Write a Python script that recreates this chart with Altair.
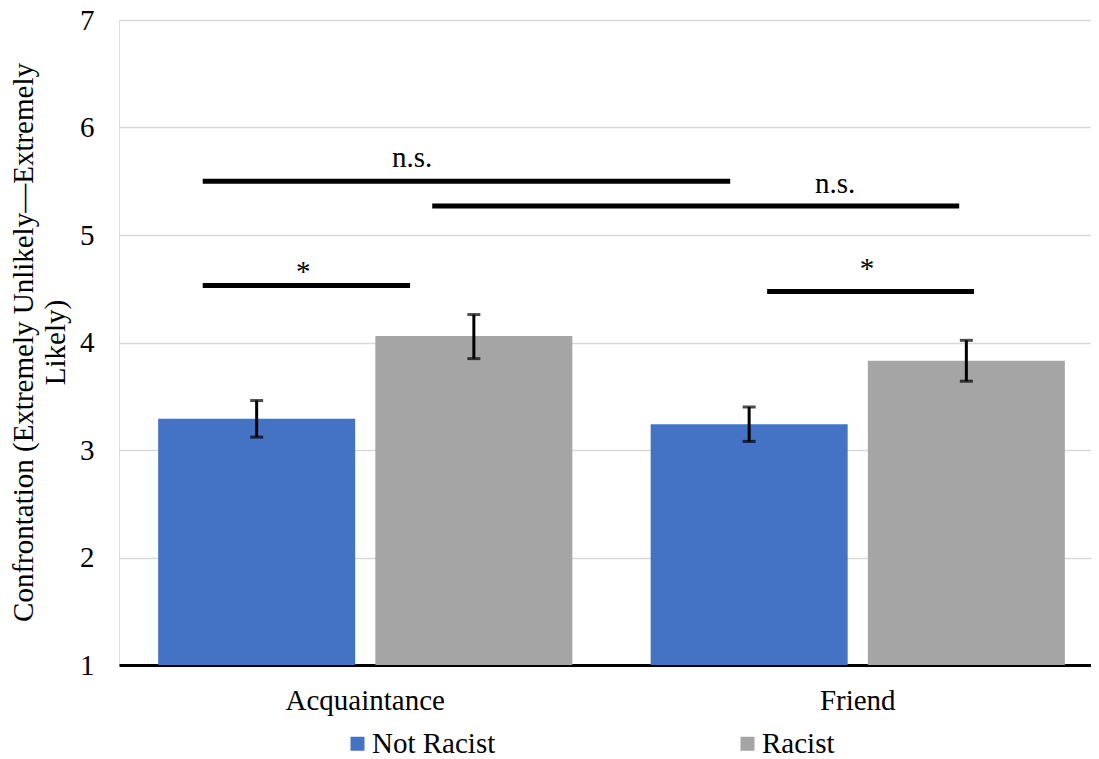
import altair as alt
import pandas as pd

# ---- data ----
targets = ["Acquaintance", "Friend"]
conditions = ["Not Racist", "Racist"]
means_not_racist = [3.29, 3.24]
means_racist = [4.06, 3.83]
err_low_not_racist = [3.12, 3.08]
err_high_not_racist = [3.46, 3.40]
err_low_racist = [3.85, 3.64]
err_high_racist = [4.26, 4.02]

# significance brackets (x in category units: 0..2, y in scale units)
sig_start = [0.17, 0.636, 0.17, 1.316]
sig_end = [1.241, 1.706, 0.591, 1.736]
sig_y = [5.50, 5.27, 4.53, 4.475]
sig_label = ["n.s.", "n.s.", "*", "*"]
sig_label_x = [0.595, 1.454, 0.374, 1.519]
sig_label_y = [5.633, 5.394, 4.57, 4.60]

colors = ["#4472C4", "#A5A5A5"]
y_ticks = [1, 2, 3, 4, 5, 6, 7]
y_title = ["Confrontation (Extremely Unlikely\u2014Extremely", "Likely)"]
FONT = "Liberation Serif, Times New Roman, serif"

rows = []
for i, t in enumerate(targets):
    rows.append({"target": t, "condition": conditions[0], "mean": means_not_racist[i],
                 "lo": err_low_not_racist[i], "hi": err_high_not_racist[i]})
    rows.append({"target": t, "condition": conditions[1], "mean": means_racist[i],
                 "lo": err_low_racist[i], "hi": err_high_racist[i]})
df = pd.DataFrame(rows)

sig_df = pd.DataFrame({"x": sig_start, "x2": sig_end, "y": sig_y})
lab_df = pd.DataFrame({"x": sig_label_x, "y": sig_label_y, "text": sig_label})

x_band = alt.X("target:N", sort=targets,
               scale=alt.Scale(domain=targets, range=[0, 985], paddingInner=0.159, paddingOuter=0.0795),
               axis=alt.Axis(title=None, labelAngle=0, labelFontSize=29, labelFont=FONT,
                             labelColor="#000000", ticks=False, domainColor="#000000",
                             domainWidth=3, labelPadding=21))
x_off = alt.XOffset("condition:N", sort=conditions,
                    scale=alt.Scale(domain=conditions, paddingInner=0.093, paddingOuter=0))
y_scale = alt.Scale(domain=[1, 7], nice=False, zero=False)

base = alt.Chart(df)

bars = base.mark_bar().encode(
    x=x_band,
    xOffset=x_off,
    y=alt.Y("mean:Q", scale=y_scale,
            axis=alt.Axis(values=y_ticks, format="d", grid=True, gridColor="#D9D9D9", gridWidth=1.5,
                          domain=False, ticks=False, labelFontSize=29, labelFont=FONT,
                          labelColor="#000000", labelPadding=25,
                          title=y_title, titleFontSize=29, titleFont=FONT,
                          titleFontWeight="normal", titleColor="#000000",
                          titleX=-110, titleY=322, titleAngle=270, titleBaseline="top",
                          titleAlign="center", titleLineHeight=32)),
    y2=alt.Y2(datum=1),
    color=alt.Color("condition:N", sort=conditions,
                    scale=alt.Scale(domain=conditions, range=colors),
                    legend=alt.Legend(title=None, orient="none", legendX=224, legendY=709,
                                      direction="horizontal", symbolType="square",
                                      symbolSize=196, symbolStrokeWidth=0,
                                      labelFontSize=29, labelFont=FONT, labelColor="#000000",
                                      labelOffset=0, columnPadding=237, padding=0)),
)

err_rule = base.mark_rule(color="#000000", strokeWidth=3).encode(
    x=x_band, xOffset=x_off,
    y=alt.Y("lo:Q", scale=y_scale), y2="hi:Q",
)
cap_lo = base.mark_tick(color="#000000", thickness=3, size=13).encode(
    x=x_band, xOffset=x_off, y=alt.Y("lo:Q", scale=y_scale),
)
cap_hi = base.mark_tick(color="#000000", thickness=3, size=13).encode(
    x=x_band, xOffset=x_off, y=alt.Y("hi:Q", scale=y_scale),
)

x_q = alt.Scale(domain=[0, 2], range=[0, 985])
sig_lines = alt.Chart(sig_df).mark_rule(color="#000000", strokeWidth=5, strokeCap="butt").encode(
    x=alt.X("x:Q", scale=x_q, axis=None), x2="x2:Q",
    y=alt.Y("y:Q", scale=y_scale),
)
sig_text = alt.Chart(lab_df).mark_text(font=FONT, fontSize=29, color="#000000",
                                       align="center", baseline="alphabetic").encode(
    x=alt.X("x:Q", scale=x_q, axis=None),
    y=alt.Y("y:Q", scale=y_scale),
    text="text:N",
)

main = alt.layer(bars, err_rule, cap_lo, cap_hi)
annot = alt.layer(sig_lines, sig_text)

chart = alt.layer(main, annot).resolve_scale(x="independent").properties(
    width=972, height=645,
    autosize=alt.AutoSizeParams(type="none"),
    padding={"left": 111, "top": 12, "right": 0, "bottom": 94},
).configure_view(stroke=None).configure(font=FONT)

chart.save("out.html", embed_options={"renderer": "svg", "actions": False})
